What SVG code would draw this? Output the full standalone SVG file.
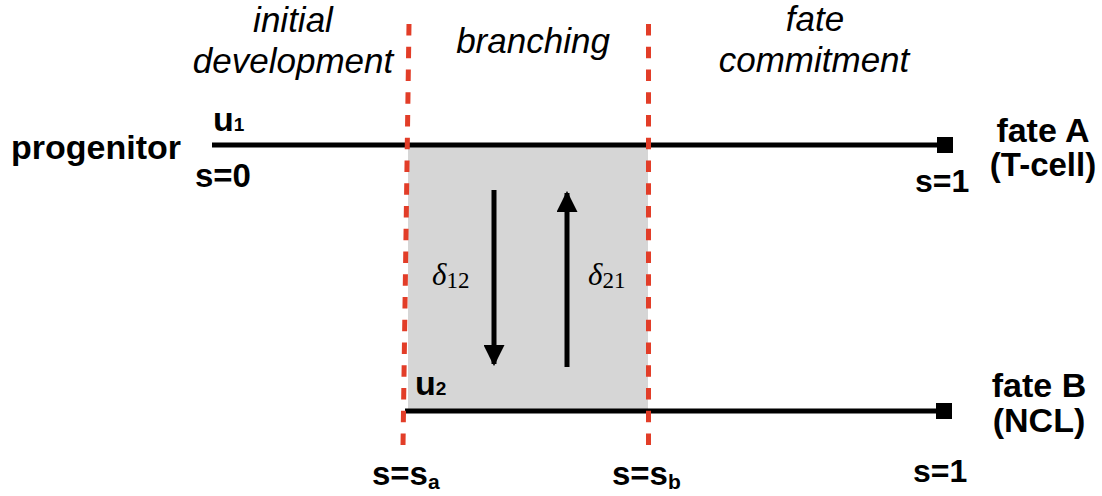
<svg xmlns="http://www.w3.org/2000/svg" width="1102" height="496" viewBox="0 0 1102 496">
<defs>
<style>
.b{font-family:"Liberation Sans",Arial,Helvetica,sans-serif;font-weight:bold;fill:#000}
.i{font-family:"Liberation Sans",Arial,Helvetica,sans-serif;font-style:italic;fill:#000;font-size:35px;text-anchor:middle}
.g{font-family:"Liberation Serif","Times New Roman",serif;fill:#000}
.path{stroke:#000;stroke-width:5;fill:none}
.arr{stroke:#000;stroke-width:5;fill:none}
.dash{stroke:#e23d28;stroke-width:5;stroke-dasharray:11.5 11.25;fill:none}
</style>
<marker id="ah" viewBox="0 0 10 10" refX="9" refY="5" markerWidth="4.2" markerHeight="4.2" orient="auto" markerUnits="strokeWidth">
<path d="M0,0 L10,5 L0,10 Z" fill="#000"/>
</marker>
</defs>
<rect width="1102" height="496" fill="#fff"/>
<g id="branching-region">
<rect x="408" y="147" width="240" height="262" fill="#d6d6d6"/>
</g>
<g id="connectors">
<line class="path" x1="212" y1="145" x2="945" y2="145"/>
<line class="path" x1="405" y1="411" x2="944" y2="411"/>
<line class="arr" x1="494" y1="190" x2="494" y2="364" marker-end="url(#ah)"/>
<line class="arr" x1="567" y1="367" x2="567" y2="193" marker-end="url(#ah)"/>
<line class="dash" x1="409" y1="24" x2="403" y2="446"/>
<line class="dash" x1="648.5" y1="24" x2="648.5" y2="446"/>
</g>
<g id="fateA-end"><rect x="937" y="137" width="16" height="16" fill="#000"/></g>
<g id="fateB-end"><rect x="936" y="403" width="16" height="16" fill="#000"/></g>
<g id="phase-labels">
<text class="i" x="293" y="32">initial</text>
<text class="i" x="293" y="73">development</text>
<text class="i" x="533" y="53">branching</text>
<text class="i" x="815" y="31">fate</text>
<text class="i" x="814" y="72">commitment</text>
</g>
<g id="progenitor">
<text class="b" x="11" y="159" font-size="34">progenitor</text>
<text class="b" x="195" y="187" font-size="33">s=0</text>
<text class="b" x="213" y="131" font-size="34">u<tspan font-size="19">1</tspan></text>
</g>
<g id="u2-label">
<text class="b" x="415" y="395" font-size="34">u<tspan font-size="19">2</tspan></text>
</g>
<g id="fateA">
<text class="b" x="1043" y="142" font-size="34" text-anchor="middle">fate A</text>
<text class="b" x="1043" y="176" font-size="33" text-anchor="middle">(T-cell)</text>
<text class="b" x="915" y="192" font-size="32">s=1</text>
</g>
<g id="fateB">
<text class="b" x="1039" y="397" font-size="34" text-anchor="middle">fate B</text>
<text class="b" x="1039" y="432" font-size="34" text-anchor="middle">(NCL)</text>
<text class="b" x="913" y="482" font-size="32">s=1</text>
</g>
<g id="boundary-labels">
<text class="b" x="372" y="485" font-size="33">s=s<tspan font-size="21" dy="4">a</tspan></text>
<text class="b" x="612" y="485" font-size="33">s=s<tspan font-size="21" dy="4">b</tspan></text>
</g>
<g id="rates">
<text class="g" x="432" y="285" font-size="31" font-style="italic">δ<tspan font-size="23" font-style="normal" dy="3">12</tspan></text>
<text class="g" x="588" y="285" font-size="31" font-style="italic">δ<tspan font-size="23" font-style="normal" dy="3">21</tspan></text>
</g>
</svg>
